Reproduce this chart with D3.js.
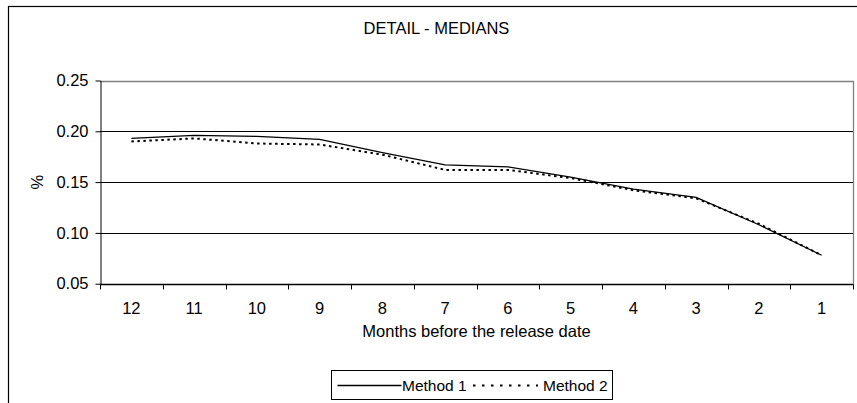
<!DOCTYPE html>
<html>
<head>
<meta charset="utf-8">
<script src="https://cdn.jsdelivr.net/npm/d3@7"></script>
<style>
  html, body { margin: 0; padding: 0; background: #fff; }
  svg { display: block; font-family: "Liberation Sans", Arial, sans-serif; }
</style>
</head>
<body>
<svg id="chart" width="857" height="403"></svg>
<script>
// Months before the release date, and the median for each method
const months = ["12", "11", "10", "9", "8", "7", "6", "5", "4", "3", "2", "1"];
const method1 = [0.193, 0.196, 0.195, 0.192, 0.179, 0.167, 0.165, 0.155, 0.143, 0.135, 0.108, 0.078];
const method2 = [0.190, 0.193, 0.188, 0.187, 0.177, 0.162, 0.162, 0.154, 0.142, 0.134, 0.109, 0.078];
const yTicks = [0.05, 0.10, 0.15, 0.20, 0.25];
const seriesNames = ["Method 1", "Method 2"];

const FONT = 16.5;
const svg = d3.select("#chart");
const plot = { left: 100, right: 853, top: 80.5, bottom: 283.7 };

const x = d3.scaleBand().domain(months).range([plot.left, plot.right]).padding(0);
const y = d3.scaleLinear().domain([0.05, 0.25]).range([plot.bottom, plot.top]);

// Outer chart frame
svg.append("rect")
  .attr("x", 8.5).attr("y", 6.5)
  .attr("width", 900).attr("height", 500)
  .attr("fill", "none").attr("stroke", "#000").attr("stroke-width", 1.2);

// Title
svg.append("text")
  .attr("x", 436.5).attr("y", 34)
  .attr("text-anchor", "middle")
  .attr("font-size", FONT)
  .text("DETAIL - MEDIANS");

// Horizontal gridlines
svg.append("g").selectAll("line")
  .data(yTicks.filter(d => d > 0.05 && d < 0.25))
  .join("line")
  .attr("x1", plot.left).attr("x2", plot.right)
  .attr("y1", d => Math.round(y(d)) + 0.5).attr("y2", d => Math.round(y(d)) + 0.5)
  .attr("stroke", "#000").attr("stroke-width", 1);

// Plot area border (top and right, grey)
svg.append("path")
  .attr("d", `M${plot.left},${Math.round(plot.top) + 0.5}H${plot.right + 0.5}V${plot.bottom}`)
  .attr("fill", "none").attr("stroke", "#808080").attr("stroke-width", 1.3);

// Y axis
const yAxis = d3.axisLeft(y).tickValues(yTicks).tickFormat(d3.format(".2f")).tickSize(5).tickSizeOuter(0);
const gy = svg.append("g")
  .attr("transform", `translate(${plot.left + 0.5},0)`)
  .call(yAxis);
gy.selectAll("text").attr("font-size", FONT).attr("fill", "#000").attr("x", -12)
  .attr("font-family", '"Liberation Sans", Arial, sans-serif');
gy.selectAll("line").attr("stroke", "#000");
gy.select(".domain").attr("stroke", "#000");

// X axis: ticks sit on category boundaries, labels in the middle
const gx = svg.append("g")
  .attr("transform", `translate(0,${Math.round(plot.bottom) + 0.5})`);
gx.append("line")
  .attr("x1", plot.left).attr("x2", plot.right + 0.5)
  .attr("stroke", "#000").attr("stroke-width", 1.3);
const boundaries = months.map(m => x(m)).concat([plot.right]);
gx.selectAll("line.tick")
  .data(boundaries)
  .join("line")
  .attr("class", "tick")
  .attr("x1", d => Math.round(d) + 0.5).attr("x2", d => Math.round(d) + 0.5)
  .attr("y1", 0).attr("y2", 5)
  .attr("stroke", "#000");
gx.selectAll("text")
  .data(months)
  .join("text")
  .attr("x", d => x(d) + x.bandwidth() / 2)
  .attr("y", 29)
  .attr("text-anchor", "middle")
  .attr("font-size", FONT)
  .text(d => d);

// Axis titles
svg.append("text")
  .attr("x", (plot.left + plot.right) / 2).attr("y", 337)
  .attr("text-anchor", "middle")
  .attr("font-size", FONT)
  .text("Months before the release date");
svg.append("text")
  .attr("transform", `translate(43,${(plot.top + plot.bottom) / 2}) rotate(-90)`)
  .attr("text-anchor", "middle")
  .attr("font-size", FONT)
  .text("%");

// Series lines
const line = d3.line()
  .x((d, i) => x(months[i]) + x.bandwidth() / 2)
  .y(d => y(d));

const styles = [
  { width: 1.3, dash: null },
  { width: 2, dash: "2.5,3.5" }
];

[method1, method2].forEach((vals, i) => {
  svg.append("path")
    .datum(vals)
    .attr("d", line)
    .attr("fill", "none")
    .attr("stroke", "#000")
    .attr("stroke-width", styles[i].width)
    .attr("stroke-dasharray", styles[i].dash);
});

// Legend
const lg = svg.append("g");
lg.append("rect")
  .attr("x", 331.5).attr("y", 370.5)
  .attr("width", 281).attr("height", 29)
  .attr("fill", "#fff").attr("stroke", "#000").attr("stroke-width", 1);
const legendItems = [
  { x1: 337.5, x2: 401.5, tx: 402 },
  { x1: 473, x2: 538, tx: 543 }
];
seriesNames.forEach((name, i) => {
  lg.append("line")
    .attr("x1", legendItems[i].x1).attr("x2", legendItems[i].x2)
    .attr("y1", 385.5).attr("y2", 385.5)
    .attr("stroke", "#000")
    .attr("stroke-width", styles[i].width)
    .attr("stroke-dasharray", i === 1 ? "2.5,6.5" : null);
  lg.append("text")
    .attr("x", legendItems[i].tx).attr("y", 391)
    .attr("font-size", 15.5)
    .text(name);
});
</script>
</body>
</html>
